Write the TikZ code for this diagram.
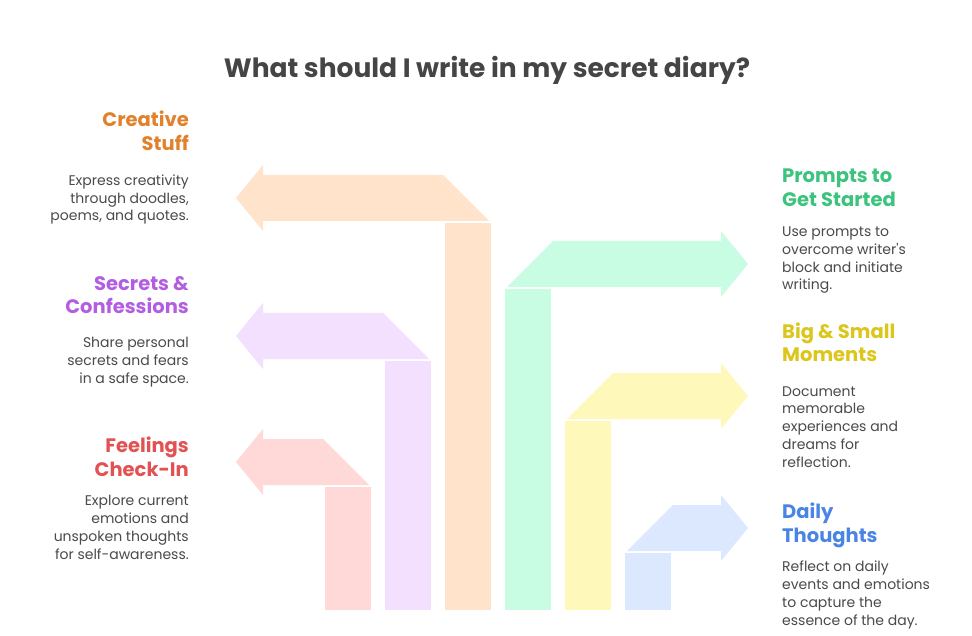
\documentclass[tikz,border=0pt]{standalone}
\usepackage{fontspec}
\newfontfamily\headfont{Poppins}
\newfontfamily\bodyfont{Poppins}
\definecolor{forange}{HTML}{FFE3CB}
\definecolor{fpurple}{HTML}{F3DFFE}
\definecolor{fred}{HTML}{FFD8D8}
\definecolor{fgreen}{HTML}{C8FDE3}
\definecolor{fyellow}{HTML}{FFF8BB}
\definecolor{fblue}{HTML}{DCE8FE}
\definecolor{torange}{HTML}{E1812C}
\definecolor{tpurple}{HTML}{B35EE2}
\definecolor{tred}{HTML}{E35252}
\definecolor{tgreen}{HTML}{3CC47E}
\definecolor{tyellow}{HTML}{DCC61C}
\definecolor{tblue}{HTML}{4A84E5}
\definecolor{ttitle}{HTML}{454545}
\definecolor{tbody}{HTML}{4A4A4A}
\newcommand\leftarr[3]{%
  \fill[#3] (#1,#2+48) rectangle (#1+46,610);
  \fill[#3] (236,#2+23) -- (263,#2-10) -- (263,#2) -- (#1-2,#2) -- (#1+44,#2+46)
    -- (263,#2+46) -- (263,#2+56) -- cycle;}
\newcommand\rightarr[3]{%
  \fill[#3] (#1,#2+48) rectangle (#1+46,610);
  \fill[#3] (#1+2,#2+46) -- (#1+48,#2) -- (721,#2) -- (721,#2-10) -- (748,#2+23)
    -- (721,#2+56) -- (721,#2+46) -- cycle;}
\begin{document}
\begin{tikzpicture}[x=1pt,y=-1pt,
  head/.style={font=\headfont\bfseries\fontsize{19.5}{24}\selectfont, inner sep=0pt},
  body/.style={font=\bodyfont\fontsize{14}{17.7}\selectfont, text=tbody, inner sep=0pt},
  lefttext/.style={align=right, anchor=base east},
  righttext/.style={align=left, anchor=base west}]
\useasboundingbox (0,0) rectangle (972,636);
\fill[white] (0,0) rectangle (972,636);
% arrows
\leftarr{445}{175}{forange}
\leftarr{385}{313}{fpurple}
\leftarr{325}{439}{fred}
\rightarr{505}{241}{fgreen}
\rightarr{565}{373}{fyellow}
\rightarr{625}{505}{fblue}
% title
\node[font=\headfont\bfseries\fontsize{26.5}{30}\selectfont, text=ttitle, inner sep=0pt, anchor=base] (title) at (487,78) {What should I write in my secret diary?};
% left texts (anchor = baseline of last line)
\node[head, lefttext, text=torange] (h1) at (189,151) {Creative\\Stuff};
\node[body, lefttext] (b1) at (189,221) {Express creativity\\through doodles,\\poems, and quotes.};
\node[head, lefttext, text=tpurple] (h2) at (189,314) {Secrets \&\\Confessions};
\node[body, lefttext] (b2) at (189,383) {Share personal\\secrets and fears\\in a safe space.};
\node[head, lefttext, text=tred] (h3) at (189,476) {Feelings\\Check-In};
\node[body, lefttext] (b3) at (189,559) {Explore current\\emotions and\\unspoken thoughts\\for self-awareness.};
% right texts
\node[head, righttext, text=tgreen] (h4) at (782,207) {Prompts to\\Get Started};
\node[body, righttext] (b4) at (782,290) {Use prompts to\\overcome writer's\\block and initiate\\writing.};
\node[head, righttext, text=tyellow] (h5) at (782,362) {Big \& Small\\Moments};
\node[body, righttext] (b5) at (782,467) {Document\\memorable\\experiences and\\dreams for\\reflection.};
\node[head, righttext, text=tblue] (h6) at (782,542) {Daily\\Thoughts};
\node[body, righttext] (b6) at (782,625) {Reflect on daily\\events and emotions\\to capture the\\essence of the day.};
\end{tikzpicture}
\end{document}
